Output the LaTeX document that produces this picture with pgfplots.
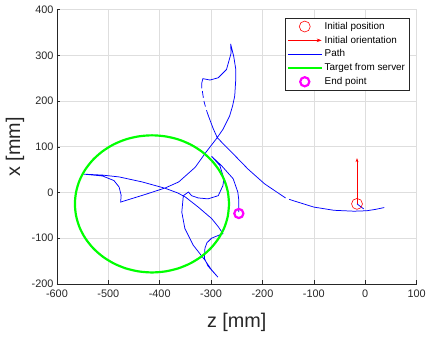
\documentclass[border=0pt]{standalone}
\usepackage{fontspec}
\setmainfont{Liberation Sans}
\usepackage{pgfplots}
\pgfplotsset{compat=1.18}
\usetikzlibrary{arrows.meta}
\definecolor{mblue}{rgb}{0,0,1}
\definecolor{mgreen}{rgb}{0,1,0}
\definecolor{mred}{rgb}{1,0,0}
\definecolor{mmag}{rgb}{1,0,1}
\definecolor{axgray}{rgb}{0.15,0.15,0.15}
\pgfplotsset{
 legline/.style={legend image code/.code={\draw[##1] (0bp,0bp) -- (34bp,0bp);}},
 legmark/.style={legend image code/.code={\draw[mark repeat=2,mark phase=2,##1] plot coordinates {(0bp,0bp) (17bp,0bp) (34bp,0bp)};}},
 legarrow/.style={legend image code/.code={\draw[mred, line width=0.6bp, -{Stealth[length=5bp,width=3.5bp]}] (0bp,0bp) -- (34bp,0bp);}},
}
\begin{document}
\begin{tikzpicture}
\begin{axis}[
 scale only axis, width=362bp, height=276bp,
 xmin=-600,xmax=100,ymin=-200,ymax=400,
 xtick={-600,-500,...,100}, ytick={-200,-100,...,400},
 axis x line*=bottom, axis y line*=left,
 axis line style={-, draw=axgray, line width=0.5bp},
 tick align=inside, major tick length=3.5bp, tick style={draw=axgray, line width=0.5bp},
 grid=major, grid style={draw=black!13, line width=0.6bp},
 ticklabel style={font=\fontsize{11}{12}\selectfont, text=axgray},
 xticklabel style={yshift=-2.5bp},
 /pgf/number format/assume math mode=true,
 xlabel={z [mm]}, ylabel={x [mm]},
 xlabel style={at={(axis description cs:0.5,0)}, anchor=center, yshift=-38.5bp},
 ylabel style={at={(axis description cs:0,0.5)}, anchor=center, yshift=42.3bp},
 label style={font=\fontsize{20}{24}\selectfont, text=axgray},
 unbounded coords=jump,
 legend style={at={(1,1)}, anchor=north east, xshift=-7.6bp, yshift=-8.6bp,
   font=\fontsize{10}{11.5}\selectfont, draw=axgray, line width=0.5bp,
   inner sep=1.8bp, row sep=1.2bp, text=black},
 legend cell align=left,
]
% initial position
\addplot[only marks, mark=o, mark size=5.5bp, color=mred, line width=0.6bp, legmark]
  coordinates {(-16,-25)};
\addlegendentry{Initial position}
% initial orientation
\addplot[color=mred, draw=mred, line width=0.6bp,
  quiver={u=\thisrow{u},v=\thisrow{v},
    every arrow/.append style={draw=mred, fill=mred, line width=0.7bp, -{Stealth[length=4bp,width=3bp]}}},
  legarrow]
  table {
x y u v
-16 -25 0 100
};
\addlegendentry{Initial orientation}
% path
\addplot[color=mblue, line width=0.75bp, no markers, legline] coordinates {
(37,-33) (20,-37) (3,-40) (-22,-41) (-61,-39) (-100,-32) (-140,-18) (-148,-15) (nan,nan)
(-155,-12) (-175,3) (-196,19) (-228,51) (-260,88) (-276,106) (-288,120) (-296,140) (-305,167) (-309,180) (nan,nan)
(-311,188) (-314,200) (nan,nan) (-315,207) (-317,222) (nan,nan)
(-318,228) (-318,240) (-316,249) (-302,246) (-286,251) (-270,269) (-261,305) (-262,325)
(-256,298) (-252,270) (-252,247) (-254,211) (-258,190) (-264,167) (-277,138) (-288,120)
(-310,88) (-331,55) (-363,23) (-389,10) (-430,-5) (-476,-21)
(-475,-6) (-479,12) (-489,26) (-511,36) (-547,40)
(-511,38) (-479,34) (-434,23) (-389,9) (-365,-1) (-350,-10) (-325,-32) (-299,-57) (-286,-75) (-277,-90)
(-299,-100) (-308,-110) (-312,-122) (-313,-144) (-306,-161) (-287,-185)
(-300,-168) (-312,-148) (-335,-115) (-351,-79) (-357,-43) (-354,-7) (-344,1)
(-338,-7) (-325,-12) (-306,-14) (-286,-7) (-277,15) (-275,30) (-283,59) (-299,79)
(-280,59) (-257,30) (-248,1) (-246,-17) (-246,-43)
};
\addlegendentry{Path}
\addplot[color=mblue, line width=0.75bp, no markers, forget plot] coordinates {(-16,-25) (-10,-30) (-3,-36)};
% target circle
\addplot[color=mgreen, line width=2.2bp, smooth, no markers, legline] coordinates {
(-265,-25) (-267.3,1.0) (-274.0,26.3) (-285.1,50) (-300.1,71.4) (-318.6,89.9) (-340,104.9)
(-363.7,116) (-389,122.7) (-415,125) (-441,122.7) (-466.3,116) (-490,104.9) (-511.4,89.9)
(-529.9,71.4) (-544.9,50) (-556,26.3) (-562.7,1.0) (-565,-25) (-562.7,-51) (-556,-76.3)
(-544.9,-100) (-529.9,-121.4) (-511.4,-139.9) (-490,-154.9) (-466.3,-166) (-441,-172.7)
(-415,-175) (-389,-172.7) (-363.7,-166) (-340,-154.9) (-318.6,-139.9) (-300.1,-121.4)
(-285.1,-100) (-274,-76.3) (-267.3,-51) (-265,-25)
};
\addlegendentry{Target from server}
% end point
\addplot[only marks, mark=o, mark size=4.6bp, color=mmag, line width=2.2bp, legmark]
  coordinates {(-246,-46)};
\addlegendentry{End point}
\end{axis}
\path (current axis.south west) ++(-57.3bp,-53.3bp) rectangle ++(429bp,339bp);
\end{tikzpicture}
\end{document}
